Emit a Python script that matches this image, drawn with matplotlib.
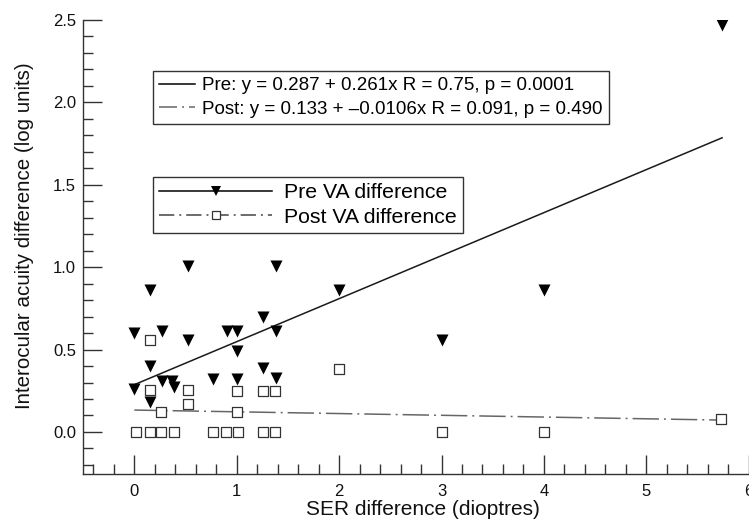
import matplotlib
matplotlib.use("Agg")
import matplotlib.pyplot as plt
import numpy as np
from matplotlib.lines import Line2D
from matplotlib.ticker import MultipleLocator, FormatStrFormatter

plt.rcParams['font.family'] = ['Liberation Sans', 'DejaVu Sans']
plt.rcParams['lines.scale_dashes'] = False

# Pre-treatment VA difference (triangles)
pre_x = [0.0, 0.0, 0.15, 0.15, 0.15, 0.27, 0.27, 0.37, 0.39, 0.52, 0.52, 0.77,
         0.91, 1.0, 1.0, 1.0, 1.26, 1.26, 1.38, 1.38, 1.38, 2.0, 3.0, 4.0, 5.74]
pre_y = [0.60, 0.26, 0.86, 0.40, 0.18, 0.61, 0.31, 0.31, 0.27, 1.01, 0.56, 0.32,
         0.61, 0.61, 0.49, 0.32, 0.70, 0.39, 1.01, 0.61, 0.33, 0.86, 0.56, 0.86, 2.47]

# Post-treatment VA difference (squares)
post_x = [0.02, 0.15, 0.26, 0.39, 0.77, 0.90, 1.01, 1.26, 1.37,
          0.15, 0.15, 0.26, 0.52, 0.52, 1.0, 1.0, 1.26, 1.37, 2.0, 3.0, 4.0, 5.73]
post_y = [0.0, 0.0, 0.0, 0.0, 0.0, 0.0, 0.0, 0.0, 0.0,
          0.56, 0.255, 0.12, 0.255, 0.17, 0.25, 0.12, 0.25, 0.25, 0.38, 0.0, 0.0, 0.079]

# Regression fits
pre_a, pre_b = 0.287, 0.261
post_a, post_b = 0.133, -0.0106
fit_x = [0.0, 5.74]

pre_fit_label = "Pre: y = 0.287 + 0.261x R = 0.75, p = 0.0001"
post_fit_label = "Post: y = 0.133 + \u20130.0106x R = 0.091, p = 0.490"
series_labels = ["Pre VA difference", "Post VA difference"]

W, H = 749, 522
fig = plt.figure(figsize=(W / 100, H / 100), dpi=100)
ax_l, ax_r, ax_t, ax_b = 83.1, 748.7, 20.0, 474.0
ax = fig.add_axes([ax_l / W, 1 - ax_b / H, (ax_r - ax_l) / W, (ax_b - ax_t) / H])

fx = np.array(fit_x)
ax.plot(fx, pre_a + pre_b * fx, color='#1a1a1a', lw=1.1)
ax.plot(fx, post_a + post_b * fx, color='#666666', lw=1.1,
        linestyle=(0, (19, 3.6, 1.4, 3.6)))

ax.scatter(pre_x, pre_y, marker='v', s=75, color='black', zorder=3, linewidths=0)
ax.scatter(post_x, post_y, marker='s', s=44, facecolor='white', edgecolor='#333333',
           linewidths=0.9, zorder=3)

ax.set_xlim(-0.5, 6)
ax.set_ylim(-0.255, 2.5)
ax.xaxis.set_major_locator(MultipleLocator(1))
ax.xaxis.set_minor_locator(MultipleLocator(0.2))
ax.yaxis.set_major_locator(MultipleLocator(0.5))
ax.yaxis.set_minor_locator(MultipleLocator(0.1))
ax.yaxis.set_major_formatter(FormatStrFormatter('%.1f'))
ax.set_yticks([0.0, 0.5, 1.0, 1.5, 2.0, 2.5])

for s in ['top', 'right']:
    ax.spines[s].set_visible(False)
for s in ['left', 'bottom']:
    ax.spines[s].set_color('#333333')
    ax.spines[s].set_linewidth(1.0)

ax.tick_params(which='major', direction='in', length=14, width=1.0, labelsize=12,
               colors='#333333', labelcolor='#111111')
ax.tick_params(which='minor', direction='in', length=7.5, width=1.0, colors='#333333')
ax.tick_params(axis='x', which='major', pad=7)
ax.tick_params(axis='y', which='major', pad=5)

ax.set_xlabel("SER difference (dioptres)", fontsize=15, labelpad=1, color='#111111')
ax.xaxis.set_label_coords(0.51, -0.058)
ax.xaxis.label.set_verticalalignment('top')
ax.set_ylabel("Interocular acuity difference (log units)", fontsize=14.8, color='#111111')
ax.yaxis.set_label_coords(-0.074, 0.524)

f1 = 13.5
h1 = [Line2D([], [], color='black', lw=1.1),
      Line2D([], [], color='#666666', lw=1.1, linestyle=(0, (13, 3.6, 1.4, 3.6)))]
leg1 = ax.legend(h1, [pre_fit_label, post_fit_label], loc='upper left',
                 bbox_to_anchor=((153 - ax_l) / (ax_r - ax_l), (ax_b - 71) / (ax_b - ax_t)),
                 borderaxespad=0, fontsize=f1,
                 frameon=True, fancybox=False, framealpha=1, edgecolor='#333333',
                 handlelength=1.92, handletextpad=0.37, labelspacing=0.35,
                 borderpad=0.33)
leg1.get_frame().set_linewidth(1.0)
ax.add_artist(leg1)

f2 = 15.3
h2 = [Line2D([], [], color='black', lw=1.1, marker='v', markersize=7.5,
             markeredgewidth=0),
      Line2D([], [], color='#444444', lw=1.1, linestyle=(0, (11, 3.6, 1.4, 3.6)),
             marker='s', markersize=6, markerfacecolor='white',
             markeredgecolor='#333333', markeredgewidth=0.9)]
leg2 = ax.legend(h2, series_labels, loc='upper left',
                 bbox_to_anchor=((153 - ax_l) / (ax_r - ax_l), (ax_b - 177) / (ax_b - ax_t)),
                 borderaxespad=0, fontsize=f2,
                 frameon=True, fancybox=False, framealpha=1, edgecolor='#333333',
                 handlelength=5.3, handletextpad=0.58, labelspacing=0.25,
                 borderpad=0.3)
leg2.get_frame().set_linewidth(1.0)

fig.savefig("out.png", dpi=100)
